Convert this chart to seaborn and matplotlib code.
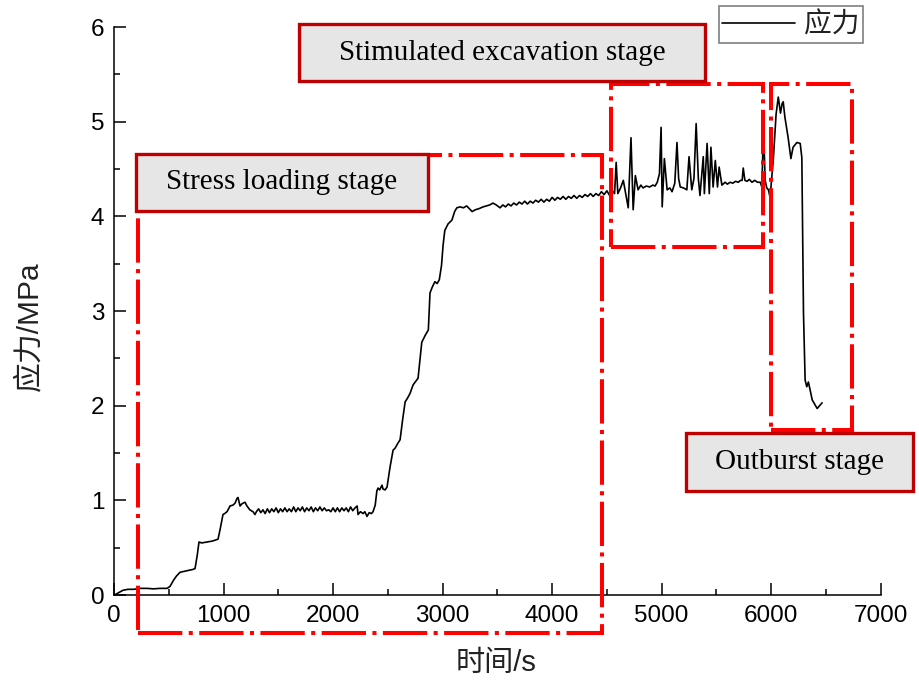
import numpy as np
import pandas as pd
import matplotlib
matplotlib.use("Agg")
import matplotlib.pyplot as plt
from matplotlib.patches import Rectangle
from matplotlib.ticker import MultipleLocator
import seaborn as sns

# ---------------- data ----------------
time_s = [
    0, 20, 50, 82, 128, 180, 237, 300, 360, 420, 484, 511, 540, 570, 603, 640, 680, 721, 740, 760,
    776, 800, 849, 900, 950, 970, 995, 1010, 1032, 1059, 1087, 1105, 1123, 1132, 1151, 1165, 1178,
    1196, 1214, 1240, 1269, 1287,
    1300, 1320, 1340, 1360, 1380, 1400, 1420, 1440, 1460, 1480, 1500, 1520, 1540, 1560, 1580, 1600,
    1620, 1640, 1660, 1680, 1700, 1720, 1740, 1760, 1780, 1800, 1820, 1840, 1860, 1880, 1900, 1920,
    1940, 1960, 1980, 2000, 2020, 2040, 2060, 2080, 2100, 2120, 2140, 2160, 2180, 2200, 2220,
    2228, 2250, 2274, 2290, 2310, 2330, 2350, 2365, 2385, 2400, 2411, 2425, 2447, 2456, 2475, 2493,
    2520, 2548, 2566, 2590, 2612, 2635, 2658, 2680, 2703, 2731, 2776, 2795, 2810, 2840, 2870, 2885,
    2905, 2930, 2950, 2970, 2990, 3005, 3020, 3050, 3085, 3110, 3130, 3160, 3190, 3220, 3245, 3270,
    3300, 3330, 3370, 3400, 3430, 3460, 3490, 3525,
    3550, 3575, 3600, 3625, 3650, 3675, 3700, 3725, 3750, 3775, 3800, 3825, 3850, 3875, 3900, 3925,
    3950, 3975, 4000, 4025, 4050, 4075, 4100, 4125, 4150, 4175, 4200, 4225, 4250, 4275, 4300, 4325,
    4350, 4375, 4400, 4425, 4450, 4475, 4500, 4525, 4550,
    4570, 4585, 4600, 4625, 4650, 4675, 4695, 4720, 4740, 4760, 4785, 4810, 4830, 4860, 4890, 4920,
    4940, 4960, 4980, 4995, 5005, 5025, 5050, 5075, 5095, 5120, 5140, 5155, 5170, 5200, 5230, 5250,
    5275, 5295, 5315, 5335, 5350, 5380, 5390, 5415, 5435, 5450, 5470, 5490, 5510, 5525, 5550, 5580,
    5600, 5625, 5650, 5675, 5700, 5720, 5735, 5745, 5760, 5780, 5800, 5825, 5850, 5875, 5900, 5915,
    5930, 5945, 5960, 5975, 5990,
    6020, 6045, 6065, 6085, 6100, 6110, 6125, 6155, 6180, 6200, 6235, 6265, 6280, 6295, 6310, 6325,
    6340, 6375, 6420, 6465,
]
stress_mpa = [
    0.00, 0.01, 0.03, 0.05, 0.06, 0.06, 0.07, 0.07, 0.065, 0.07, 0.07, 0.09, 0.15, 0.20, 0.24, 0.25,
    0.26, 0.27, 0.28, 0.42, 0.56, 0.55, 0.56, 0.57, 0.59, 0.70, 0.85, 0.86, 0.88, 0.94, 0.95, 0.97,
    1.02, 1.03, 0.94, 0.96, 0.97, 0.98, 0.94, 0.90, 0.88, 0.85,
    0.88, 0.91, 0.87, 0.90, 0.86, 0.91, 0.87, 0.91, 0.88, 0.92, 0.87, 0.91, 0.88, 0.92, 0.88, 0.91,
    0.88, 0.93, 0.88, 0.92, 0.89, 0.93, 0.88, 0.92, 0.89, 0.93, 0.88, 0.92, 0.89, 0.93, 0.89, 0.92,
    0.89, 0.90, 0.88, 0.92, 0.88, 0.92, 0.88, 0.92, 0.89, 0.92, 0.88, 0.93, 0.89, 0.92, 0.94,
    0.85, 0.88, 0.86, 0.88, 0.83, 0.87, 0.86, 0.88, 0.95, 1.10, 1.13, 1.11, 1.16, 1.12, 1.11, 1.14,
    1.35, 1.53, 1.55, 1.60, 1.64, 1.85, 2.04, 2.08, 2.13, 2.22, 2.29, 2.50, 2.67, 2.74, 2.80, 3.19,
    3.25, 3.31, 3.29, 3.33, 3.48, 3.70, 3.85, 3.92, 3.96, 4.05, 4.09, 4.10, 4.09, 4.11, 4.08, 4.05,
    4.07, 4.08, 4.10, 4.11, 4.12, 4.14, 4.12, 4.09,
    4.12, 4.10, 4.13, 4.11, 4.14, 4.12, 4.15, 4.13, 4.16, 4.13, 4.16, 4.14, 4.17, 4.15, 4.18, 4.15,
    4.18, 4.16, 4.20, 4.17, 4.20, 4.18, 4.21, 4.18, 4.21, 4.19, 4.22, 4.19, 4.22, 4.20, 4.23, 4.21,
    4.24, 4.21, 4.24, 4.22, 4.26, 4.23, 4.27, 4.22, 4.27,
    4.24, 4.57, 4.24, 4.30, 4.38, 4.22, 4.09, 4.83, 4.07, 4.43, 4.28, 4.33, 4.30, 4.32, 4.31, 4.33,
    4.32, 4.36, 4.45, 4.94, 4.10, 4.61, 4.28, 4.30, 4.26, 4.35, 4.78, 4.40, 4.31, 4.30, 4.28, 4.63,
    4.28, 4.40, 4.98, 4.40, 4.22, 4.63, 4.24, 4.77, 4.24, 4.73, 4.31, 4.59, 4.31, 4.52, 4.33, 4.36,
    4.34, 4.36, 4.35, 4.37, 4.36, 4.38, 4.38, 4.51, 4.38, 4.37, 4.39, 4.36, 4.38, 4.36, 4.36, 4.31,
    4.94, 4.38, 4.30, 4.28, 4.20,
    4.61, 5.08, 5.26, 5.09, 5.19, 5.21, 5.05, 4.83, 4.61, 4.73, 4.78, 4.77, 4.62, 2.98, 2.27, 2.20,
    2.25, 2.06, 1.97, 2.03,
]

stage_labels = ["Stress loading stage", "Stimulated excavation stage", "Outburst stage"]
series_label = "应力"
x_label = "时间/s"
y_label = "应力/MPa"

df = pd.DataFrame({"t": time_s, "s": stress_mpa})

# ---------------- figure ----------------
sns.set_theme(style="ticks")
plt.rcParams["font.family"] = ["Liberation Sans", "Noto Sans CJK SC", "DejaVu Sans"]

W, H = 920, 680
fig = plt.figure(figsize=(W / 100, H / 100), dpi=100)
ax = fig.add_axes([114 / W, 1 - 595 / H, (880.7 - 114) / W, (595 - 27) / H])

sns.lineplot(data=df, x="t", y="s", ax=ax, color="black", lw=1.2,
             estimator=None, sort=False, label=series_label, zorder=2)

ax.set_xlim(0, 7000)
ax.set_ylim(0, 6)
ax.xaxis.set_major_locator(MultipleLocator(1000))
ax.xaxis.set_minor_locator(MultipleLocator(500))
ax.yaxis.set_major_locator(MultipleLocator(1))
ax.yaxis.set_minor_locator(MultipleLocator(0.5))
ax.tick_params(which="both", direction="in", width=1.1, colors="black",
               labelsize=17.5, top=False, right=False)
ax.tick_params(which="major", length=8.5, pad=7)
ax.tick_params(which="minor", length=4.3)
for sp in ["top", "right"]:
    ax.spines[sp].set_visible(False)
for sp in ["left", "bottom"]:
    ax.spines[sp].set_linewidth(1.1)
    ax.spines[sp].set_color("black")
ax.set_xlabel("")
ax.set_ylabel("")

fig.text(29 / W, 1 - 326 / H, y_label, rotation=90, ha="center", va="center",
         fontsize=21.5, color="#222222")
fig.text(496 / W, 1 - 663 / H, x_label, ha="center", va="center",
         fontsize=21, color="#222222")

# ---------------- red dash-dot stage frames ----------------
dashdot = (0, (11, 1.6, 1.0, 1.6))
frames = [
    (219, -0.40, 4460 - 219, 4.65 + 0.40),
    (4538, 3.68, 5926 - 4538, 5.40 - 3.68),
    (5999, 1.74, 6739 - 5999, 5.40 - 1.74),
]
for (x0, y0, w, h) in frames:
    ax.add_patch(Rectangle((x0, y0), w, h, fill=False, ec="#ff0000", lw=2.9,
                           linestyle=dashdot, clip_on=False, zorder=3))

# ---------------- grey stage label boxes ----------------
boxes = [
    (201, 4.06, 2867 - 201, 4.66 - 4.06),
    (1689, 5.43, 5396 - 1689, 6.03 - 5.43),
    (5223, 1.10, 7296 - 5223, 1.71 - 1.10),
]
for (x0, y0, w, h), lab in zip(boxes, stage_labels):
    ax.add_patch(Rectangle((x0, y0), w, h, fc="#e6e6e6", ec="#c00000", lw=2.4,
                           clip_on=False, zorder=4))
    ax.text(x0 + w / 2, y0 + h / 2, lab, ha="center", va="center", fontsize=21,
            family="Liberation Serif", color="black", zorder=5, clip_on=False)

# ---------------- legend ----------------
leg = ax.legend(loc="upper left", bbox_to_anchor=(719 / W, 1 - 6 / H),
                bbox_transform=fig.transFigure, borderaxespad=0,
                frameon=True, fancybox=False, framealpha=1, edgecolor="#7f7f7f",
                prop={"family": ["Noto Sans CJK SC"], "size": 20},
                handlelength=2.6, handletextpad=0.35, borderpad=0.12)
leg.get_frame().set_linewidth(1.2)
for t in leg.get_texts():
    t.set_color("#222222")

fig.savefig("out.png", dpi=100)
